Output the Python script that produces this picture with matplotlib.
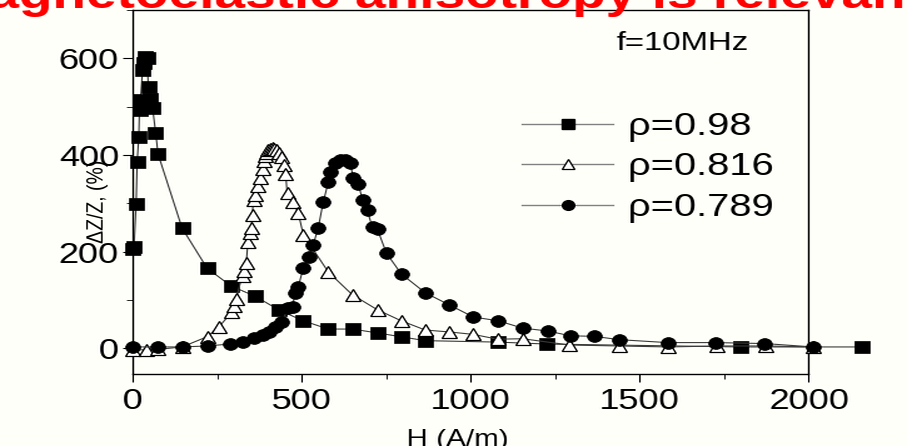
"""
plot.py

GMI ratio dZ/Z vs applied field H for three wire densities (f = 10 MHz).

Output:
  out.png
"""
import io
import matplotlib
matplotlib.use("Agg")
import matplotlib.pyplot as plt
from matplotlib.lines import Line2D
from matplotlib.ticker import MultipleLocator
from PIL import Image

# ── Data: H (A/m) and dZ/Z (%) ────────────────────────────────────────────────
h_098 = [0, 3, 9, 12, 17, 19, 22, 28, 33, 37, 42, 45, 50, 58, 67, 74,
         145, 219, 290, 361, 433, 504, 578, 649, 723, 794, 865,
         1081, 1224, 1797, 2158]
z_098 = [205, 210, 298, 385, 438, 493, 514, 575, 590, 603, 600, 540, 515, 497, 445, 402,
         249, 166, 129, 108, 79, 57, 40, 40, 32, 24, 16,
         13, 9, 3, 3]

h_0816 = [0, 38, 74, 145, 219, 255, 293, 299, 305, 323, 329, 335, 340, 347, 350, 353,
          356, 362, 370, 376, 382, 386, 390, 395, 400, 406, 412, 418, 424, 432,
          441, 448, 452, 456, 474, 489, 504, 578, 649, 723, 794, 865, 936,
          1007, 1079, 1153, 1292, 1438, 1584, 1728, 1872, 2015]
z_0816 = [-3, -3, -2, 3, 24, 45, 76, 88, 102, 150, 160, 176, 220, 238, 250, 275,
          306, 318, 335, 352, 372, 388, 398, 405, 410, 413, 414, 413, 410, 404,
          396, 380, 360, 321, 303, 280, 235, 158, 111, 80, 57, 38, 34,
          29, 19, 20, 7, 5, 3, 5, 5, 3]

h_0789 = [0, 74, 145, 219, 287, 326, 356, 385, 403, 421, 441, 459, 471, 480, 489,
          504, 519, 533, 548, 563, 578, 584, 598, 613, 628, 643, 652, 667, 679,
          693, 708, 723, 750, 794, 865, 936, 1007, 1081, 1153, 1227, 1295,
          1364, 1440, 1582, 1724, 1870, 2012]
z_0789 = [3, 3, 3, 5, 9, 14, 22, 28, 34, 45, 55, 83, 86, 114, 128,
          166, 190, 214, 249, 303, 344, 364, 383, 390, 390, 383, 352, 341, 306,
          286, 251, 247, 197, 154, 115, 90, 65, 57, 42, 36, 26,
          25, 18, 12, 12, 10, 3]

labels = ["ρ=0.98", "ρ=0.816", "ρ=0.789"]

x_ticks = [0, 500, 1000, 1500, 2000]
y_ticks = [0, 200, 400, 600]

# ── Style ─────────────────────────────────────────────────────────────────────
BG = "#FFFFFA"
LINE = "#3A3A3A"
LEG_LINE = "#808080"
RED = "#FF0000"

plt.rcParams.update({
    "font.family": ["Liberation Sans", "DejaVu Sans"],
    "axes.linewidth": 1.0,
    "xtick.direction": "out",
    "ytick.direction": "out",
    "xtick.major.size": 6,
    "ytick.major.size": 6,
    "xtick.minor.size": 3.5,
    "ytick.minor.size": 3.5,
})

# Drawn narrow, then widened to the final 907 px canvas
STRETCH = 1.25
W_OUT, H_OUT = 907, 446
fig = plt.figure(figsize=(W_OUT / STRETCH / 100, H_OUT / 100), dpi=100)
fig.patch.set_facecolor(BG)
ax = fig.add_axes([0.1466, 0.1614, 0.7443, 0.8162])
ax.set_facecolor(BG)

common = dict(color=LINE, linewidth=0.8, clip_on=False, markeredgecolor="black")
ax.plot(h_098, z_098, marker="s", markersize=8, markerfacecolor="black",
        markeredgewidth=0.5, zorder=3, **common)
ax.plot(h_0816, z_0816, marker="^", markersize=9, markerfacecolor="white",
        markeredgewidth=0.9, zorder=4, **common)
ax.plot(h_0789, z_0789, marker="o", markersize=8.5, markerfacecolor="black",
        markeredgewidth=0.5, zorder=5, **common)

ax.set_xlim(0, 2000)
ax.set_ylim(-53, 700)
ax.set_xticks(x_ticks)
ax.set_yticks(y_ticks)
ax.xaxis.set_minor_locator(MultipleLocator(250))
ax.yaxis.set_minor_locator(MultipleLocator(100))
ax.tick_params(labelsize=21)
ax.tick_params(axis="x", pad=3)
ax.tick_params(axis="y", pad=2)

ax.set_xlabel("H (A/m)", fontsize=17, labelpad=2)
ax.xaxis.set_label_coords(0.48, -0.15)
ax.set_ylabel("ΔZ/Z, (%)", fontsize=14)
ax.yaxis.set_label_coords(-0.036, 0.475)

ax.text(0.716, 0.89, "f=10MHz", transform=ax.transAxes, fontsize=19,
        ha="left", va="baseline")

# Legend: grey lines, black markers
handles = [
    Line2D([0], [0], color=LEG_LINE, linewidth=1.0, marker="s", markersize=6.5,
           markerfacecolor="black", markeredgecolor="black"),
    Line2D([0], [0], color=LEG_LINE, linewidth=1.0, marker="^", markersize=7.5,
           markerfacecolor="white", markeredgecolor="black", markeredgewidth=0.9),
    Line2D([0], [0], color=LEG_LINE, linewidth=1.0, marker="o", markersize=7,
           markerfacecolor="black", markeredgecolor="black"),
]
ax.legend(handles, labels, loc="upper left", bbox_to_anchor=(0.575, 0.72),
          frameon=False, fontsize=23, handlelength=2.3, handletextpad=0.35,
          labelspacing=0.33, borderpad=0, borderaxespad=0)

# Slide heading, cut by the top edge
fig.text(-0.064, 0.982, "Magnetoelastic anisotropy is relevant", color=RED,
         fontsize=31.7, fontweight="bold", ha="left", va="baseline")

# ── Save ──────────────────────────────────────────────────────────────────────
buf = io.BytesIO()
fig.savefig(buf, dpi=100, facecolor=BG)
plt.close(fig)
buf.seek(0)
img = Image.open(buf).convert("RGB").resize((W_OUT, H_OUT), Image.LANCZOS)
img.save("out.png")
print("Saved: out.png")
